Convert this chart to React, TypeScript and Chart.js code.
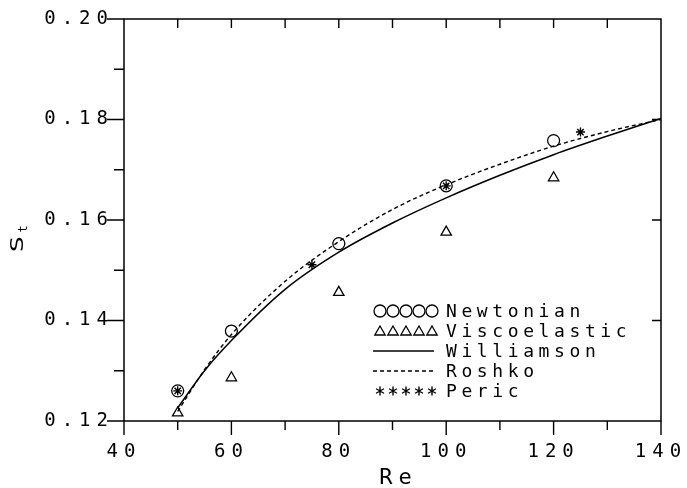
import React, { useEffect, useRef } from 'react';
import { Chart, registerables } from 'chart.js';

Chart.register(...registerables);

// ---- data ----
const reNewtonian = [50, 60, 80, 100, 120];
const stNewtonian = [0.126, 0.1379, 0.1553, 0.1668, 0.1758];

const reViscoelastic = [50, 60, 80, 100, 120];
const stViscoelastic = [0.1216, 0.1286, 0.1456, 0.1576, 0.1684];

const reCurve = [50, 55, 60, 70, 80, 90, 100, 110, 120, 130, 140];
const stWilliamson = [0.1226, 0.13, 0.136, 0.1462, 0.1536, 0.1594, 0.1644, 0.1689, 0.173, 0.1767, 0.1802];
const stRoshko = [0.1219, 0.1302, 0.1372, 0.1478, 0.1557, 0.1621, 0.167, 0.1711, 0.1747, 0.1776, 0.18];

const rePeric = [50, 75, 100, 125];
const stPeric = [0.126, 0.1511, 0.1668, 0.1775];

const xMajorTicks = [40, 60, 80, 100, 120, 140];
const xMinorTicks = [50, 70, 90, 110, 130];
const xTopTicks = [50, 60, 70, 80, 90, 100, 110, 120, 130];
const yMajorTicks = [0.12, 0.14, 0.16, 0.18, 0.2];
const yMinorTicks = [0.13, 0.15, 0.17, 0.19];
const yRightTicks = [0.14, 0.16, 0.18];

const legendLabels = ['Newtonian', 'Viscoelastic', 'Williamson', 'Roshko', 'Peric'];
const xTitle = 'Re';
const yTitleMain = 'S';
const yTitleSub = 't';

const FONT = '"DejaVu Sans Mono", "Liberation Mono", monospace';

const toPts = (xs: number[], ys: number[]) => xs.map((x, i) => ({ x, y: ys[i] }));

function drawCircle(ctx: CanvasRenderingContext2D, x: number, y: number, r: number) {
  ctx.beginPath();
  ctx.arc(x, y, r, 0, Math.PI * 2);
  ctx.stroke();
}
function drawTriangle(ctx: CanvasRenderingContext2D, x: number, y: number, r: number) {
  ctx.beginPath();
  ctx.moveTo(x, y - r);
  ctx.lineTo(x + r * 0.866, y + r * 0.5);
  ctx.lineTo(x - r * 0.866, y + r * 0.5);
  ctx.closePath();
  ctx.stroke();
}
function drawStar(ctx: CanvasRenderingContext2D, x: number, y: number, r: number) {
  ctx.beginPath();
  for (let k = 0; k < 3; k++) {
    const a = (Math.PI / 3) * k + Math.PI / 2;
    ctx.moveTo(x + Math.cos(a) * r, y + Math.sin(a) * r);
    ctx.lineTo(x - Math.cos(a) * r, y - Math.sin(a) * r);
  }
  ctx.stroke();
}

const axesPlugin = {
  id: 'axesFrame',
  beforeDraw(chart: any) {
    chart.ctx.letterSpacing = '6px';
  },
  beforeDatasetsDraw(chart: any) {
    const { ctx, chartArea: a, scales } = chart;
    const xs = scales.x;
    const ys = scales.y;
    ctx.save();
    ctx.letterSpacing = '0px';
    ctx.strokeStyle = '#000';
    ctx.lineWidth = 1.5;
    ctx.strokeRect(a.left, a.top, a.right - a.left, a.bottom - a.top);
    ctx.lineWidth = 1.4;
    ctx.beginPath();
    xMajorTicks.forEach((v) => {
      const px = xs.getPixelForValue(v);
      ctx.moveTo(px, a.bottom);
      ctx.lineTo(px, a.bottom + 14);
    });
    xMinorTicks.forEach((v) => {
      const px = xs.getPixelForValue(v);
      ctx.moveTo(px, a.bottom);
      ctx.lineTo(px, a.bottom + 9);
    });
    xTopTicks.forEach((v) => {
      const px = xs.getPixelForValue(v);
      ctx.moveTo(px, a.top);
      ctx.lineTo(px, a.top + 9);
    });
    yMajorTicks.forEach((v) => {
      const py = ys.getPixelForValue(v);
      ctx.moveTo(a.left - 17, py);
      ctx.lineTo(a.left, py);
    });
    yMinorTicks.forEach((v) => {
      const py = ys.getPixelForValue(v);
      ctx.moveTo(a.left - 10, py);
      ctx.lineTo(a.left, py);
    });
    yRightTicks.forEach((v) => {
      const py = ys.getPixelForValue(v);
      ctx.moveTo(a.right - 9, py);
      ctx.lineTo(a.right, py);
    });
    ctx.stroke();
    ctx.restore();
  },
  afterDatasetsDraw(chart: any) {
    const { ctx, chartArea: a } = chart;
    ctx.save();
    ctx.strokeStyle = '#000';
    ctx.fillStyle = '#000';
    // legend
    const rowY = [311, 331, 351, 371, 391];
    const symX = [380, 393, 406, 419, 432];
    ctx.lineWidth = 1.3;
    symX.forEach((x) => drawCircle(ctx, x, rowY[0], 6));
    symX.forEach((x) => drawTriangle(ctx, x, rowY[1] + 1, 6));
    ctx.beginPath();
    ctx.moveTo(373, rowY[2]);
    ctx.lineTo(434, rowY[2]);
    ctx.lineWidth = 1.5;
    ctx.stroke();
    ctx.setLineDash([4, 3]);
    ctx.beginPath();
    ctx.moveTo(373, rowY[3]);
    ctx.lineTo(434, rowY[3]);
    ctx.lineWidth = 1.4;
    ctx.stroke();
    ctx.setLineDash([]);
    ctx.lineWidth = 1.4;
    symX.forEach((x) => drawStar(ctx, x, rowY[4], 4.5));

    ctx.font = '18px ' + FONT;
    ctx.letterSpacing = '4.6px';
    ctx.textAlign = 'left';
    ctx.textBaseline = 'middle';
    legendLabels.forEach((t, i) => ctx.fillText(t, 446, rowY[i] + 1));

    // x title
    ctx.font = '22px ' + FONT;
    ctx.letterSpacing = '6px';
    ctx.textAlign = 'center';
    ctx.fillText(xTitle, (a.left + a.right) / 2 + 6, 478);

    // y title
    ctx.translate(19, 244);
    ctx.rotate(-Math.PI / 2);
    ctx.letterSpacing = '0px';
    ctx.save();
    ctx.scale(1.6, 1);
    ctx.font = '17px ' + FONT;
    ctx.fillText(yTitleMain, 0, 0);
    ctx.restore();
    ctx.font = '12px ' + FONT;
    ctx.fillText(yTitleSub, 15, 5);
    ctx.restore();
  },
  afterDraw(chart: any) {
    chart.ctx.letterSpacing = '0px';
  },
};

export default function App() {
  const ref = useRef<HTMLCanvasElement | null>(null);
  useEffect(() => {
    document.body.style.margin = '0';
    const canvas = ref.current!;
    const chart = new Chart(canvas, {
      type: 'line',
      data: {
        datasets: [
          {
            label: 'Williamson',
            data: toPts(reCurve, stWilliamson),
            borderColor: '#000',
            borderWidth: 1.5,
            pointRadius: 0,
            fill: false,
            cubicInterpolationMode: 'monotone',
          },
          {
            label: 'Roshko',
            data: toPts(reCurve, stRoshko),
            borderColor: '#000',
            borderWidth: 1.4,
            borderDash: [4, 3],
            pointRadius: 0,
            fill: false,
            cubicInterpolationMode: 'monotone',
          },
          {
            label: 'Newtonian',
            data: toPts(reNewtonian, stNewtonian),
            showLine: false,
            pointStyle: 'circle',
            pointRadius: 6,
            pointBorderWidth: 1.3,
            pointBorderColor: '#000',
            pointBackgroundColor: 'rgba(0,0,0,0)',
          },
          {
            label: 'Viscoelastic',
            data: toPts(reViscoelastic, stViscoelastic),
            showLine: false,
            pointStyle: 'triangle',
            pointRadius: 6,
            pointBorderWidth: 1.3,
            pointBorderColor: '#000',
            pointBackgroundColor: 'rgba(0,0,0,0)',
          },
          {
            label: 'Peric',
            data: toPts(rePeric, stPeric),
            showLine: false,
            pointStyle: 'star',
            pointRadius: 4.5,
            pointBorderWidth: 1.4,
            pointBorderColor: '#000',
            pointBackgroundColor: 'rgba(0,0,0,0)',
          },
        ],
      },
      options: {
        responsive: false,
        animation: false,
        layout: { padding: { top: 19, right: 26, left: 0, bottom: 0 } },
        plugins: { legend: { display: false }, tooltip: { enabled: false } },
        scales: {
          x: {
            type: 'linear',
            min: 40,
            max: 140,
            grid: { display: false, drawTicks: false },
            border: { display: false },
            afterBuildTicks: (s: any) => {
              s.ticks = xMajorTicks.map((v) => ({ value: v }));
            },
            afterFit: (s: any) => {
              s.height = 67;
              s.paddingLeft = 0;
              s.paddingRight = 0;
            },
            ticks: {
              color: '#000',
              font: { family: FONT, size: 19 },
              padding: 20,
              maxRotation: 0,
              autoSkip: false,
              callback: (v: any) => String(v),
            },
          },
          y: {
            type: 'linear',
            min: 0.12,
            max: 0.2,
            grid: { display: false, drawTicks: false },
            border: { display: false },
            afterBuildTicks: (s: any) => {
              s.ticks = yMajorTicks.map((v) => ({ value: v }));
            },
            afterFit: (s: any) => {
              s.width = 124;
              s.paddingTop = 0;
              s.paddingBottom = 0;
            },
            ticks: {
              color: '#000',
              font: { family: FONT, size: 19 },
              padding: 10,
              callback: (v: any) => Number(v).toFixed(2),
            },
          },
        },
      },
      plugins: [axesPlugin],
    } as any);
    return () => chart.destroy();
  }, []);
  return (
    <canvas ref={ref} width={687} height={488} style={{ display: 'block', width: 687, height: 488 }} />
  );
}
